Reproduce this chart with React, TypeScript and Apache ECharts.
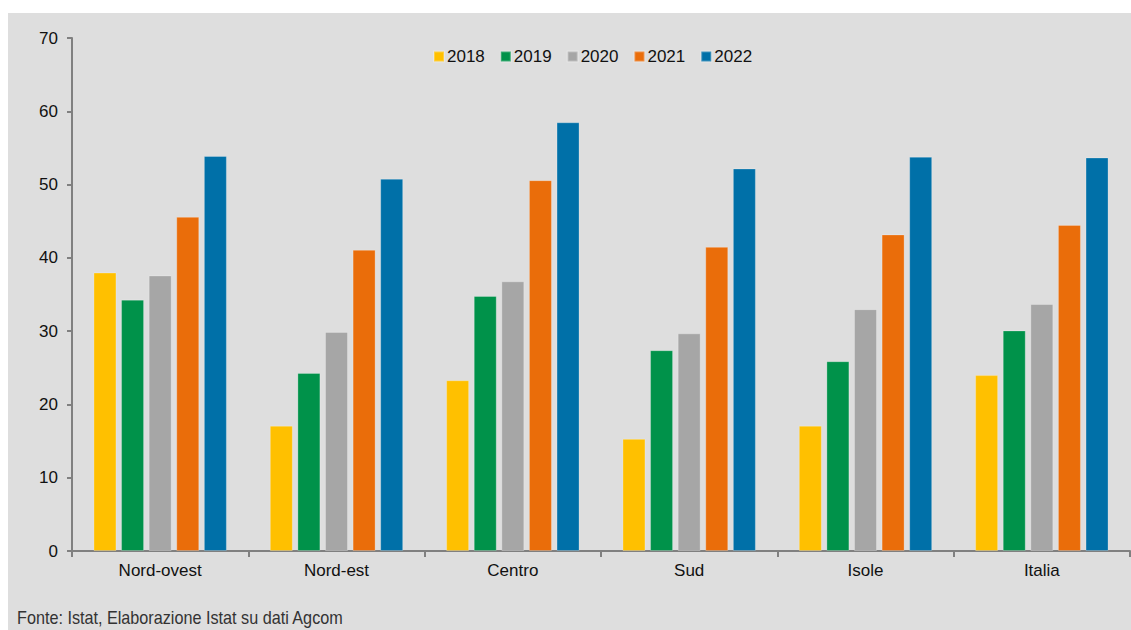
import React, { useEffect, useRef } from "react";
import * as echarts from "echarts";

const categories = ["Nord-ovest", "Nord-est", "Centro", "Sud", "Isole", "Italia"];
const years = ["2018", "2019", "2020", "2021", "2022"];
const v2018 = [38.0, 17.1, 23.3, 15.3, 17.1, 24.0];
const v2019 = [34.3, 24.3, 34.8, 27.4, 25.9, 30.1];
const v2020 = [37.6, 29.9, 36.8, 29.7, 33.0, 33.7];
const v2021 = [45.6, 41.1, 50.6, 41.5, 43.2, 44.5];
const v2022 = [53.9, 50.8, 58.5, 52.2, 53.8, 53.7];
const colors = ["#FFC000", "#00924A", "#A6A6A6", "#EA6D0A", "#0070A8"];
const seriesValues = [v2018, v2019, v2020, v2021, v2022];
const yTicks = [0, 10, 20, 30, 40, 50, 60, 70];

export default function App() {
  const ref = useRef<HTMLDivElement>(null);
  useEffect(() => {
    if (!ref.current) return;
    const chart = echarts.init(ref.current, undefined, { renderer: "svg" });
    const font = "'Liberation Sans', Arial, sans-serif";
    chart.setOption({
      animation: false,
      backgroundColor: "#ffffff",
      graphic: [
        {
          type: "rect",
          z: -10,
          shape: { x: 8, y: 13, width: 1123, height: 617 },
          style: { fill: "#DEDEDE" },
          silent: true,
        },
        {
          type: "text",
          x: 17,
          y: 609,
          scaleX: 0.9,
          style: {
            text: "Fonte: Istat, Elaborazione Istat su dati Agcom",
            font: "18px 'Liberation Sans', Arial, sans-serif",
            fill: "#333333",
          },
        },
      ],
      legend: {
        data: years,
        top: 43,
        left: 428,
        itemWidth: 10,
        itemHeight: 10,
        itemGap: 15,
        icon: "rect",
        textStyle: { fontFamily: font, fontSize: 17, color: "#111", padding: [0, 0, 0, -2] },
      },
      grid: { left: 72, right: 1, top: 38, bottom: 79, containLabel: false },
      xAxis: {
        type: "category",
        data: categories,
        boundaryGap: true,
        axisLine: { lineStyle: { color: "#808080", width: 2 } },
        axisTick: { show: true, length: 6, lineStyle: { color: "#808080", width: 2 } },
        axisLabel: { fontFamily: font, fontSize: 17, color: "#111", margin: 11 },
      },
      yAxis: {
        type: "value",
        min: yTicks[0],
        max: yTicks[yTicks.length - 1],
        interval: 10,
        axisLine: { show: true, lineStyle: { color: "#808080", width: 2 } },
        axisTick: { show: true, length: 5, lineStyle: { color: "#808080", width: 2 } },
        splitLine: { show: false },
        axisLabel: { fontFamily: font, fontSize: 17, color: "#111", margin: 14 },
      },
      series: years.map((y, i) => ({
        name: y,
        type: "bar",
        data: seriesValues[i],
        barWidth: 23,
        barGap: "20%",
        itemStyle: {
          color: colors[i],
          borderColor: "rgba(255,255,255,0.25)",
          borderWidth: 1,
        },
      })),
    });
    return () => chart.dispose();
  }, []);
  return (
    <div
      ref={ref}
      style={{ position: "fixed", left: 0, top: 0, width: 1131, height: 630 }}
    />
  );
}
